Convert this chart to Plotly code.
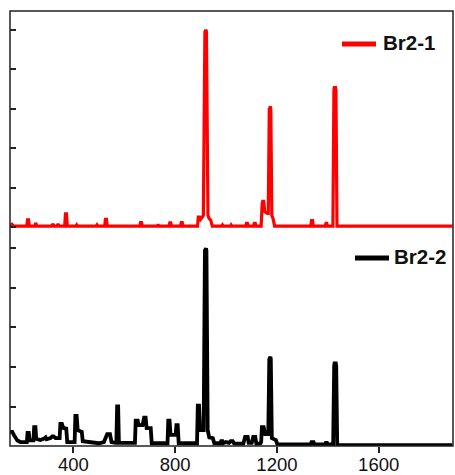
import plotly.graph_objects as go
from plotly.subplots import make_subplots

# Spectrum traces (wavenumber, relative intensity)
br21_x = [150, 158, 165, 217, 220, 224, 227, 249, 251, 254, 256, 314, 317, 322, 325, 335, 338, 342,
          345, 366, 369, 373, 376, 410, 413, 416, 490, 493, 496, 523, 526, 530, 533, 661, 664, 668,
          671, 730, 733, 736, 776, 779, 783, 786, 821, 824, 828, 831, 888, 891, 896, 900, 906, 911,
          917, 918.5, 921.5, 923, 929, 934, 940, 946, 983, 986, 989, 1017, 1020, 1023, 1077, 1080,
          1084, 1087, 1108, 1111, 1115, 1118, 1138, 1142, 1144, 1148, 1152, 1162, 1166, 1170,
          1171.5, 1174.5, 1176, 1180, 1185, 1191, 1333, 1336, 1340, 1343, 1389, 1392, 1395, 1398,
          1420, 1424, 1425.5, 1430.5, 1432, 1436, 1890]
br21_y = [0.06, 0.08, 0.03, 0.03, 0.19, 0.19, 0.03, 0.03, 0.08, 0.08, 0.03, 0.03, 0.06, 0.06, 0.03,
          0.03, 0.06, 0.06, 0.03, 0.03, 0.34, 0.34, 0.03, 0.03, 0.06, 0.03, 0.03, 0.06, 0.03, 0.03,
          0.2, 0.2, 0.03, 0.03, 0.12, 0.12, 0.03, 0.03, 0.07, 0.03, 0.03, 0.11, 0.11, 0.03, 0.03,
          0.12, 0.12, 0.03, 0.03, 0.26, 0.26, 0.2, 0.25, 0.3, 4.95, 5.0, 5.0, 4.95, 0.3, 0.22, 0.18,
          0.03, 0.03, 0.06, 0.03, 0.03, 0.06, 0.03, 0.03, 0.1, 0.1, 0.03, 0.03, 0.1, 0.1, 0.03, 0.03,
          0.6, 0.66, 0.66, 0.4, 0.35, 0.35, 3.0, 3.06, 3.06, 3.0, 0.3, 0.22, 0.03, 0.03, 0.17, 0.17,
          0.03, 0.03, 0.13, 0.13, 0.03, 0.03, 3.48, 3.54, 3.54, 3.48, 0.03, 0.03]

br22_x = [150, 160, 166, 172, 180, 192, 212, 217, 220, 225, 228, 240, 243, 246, 251, 254, 270, 283,
          287, 291, 295, 310, 317, 322, 330, 346, 349, 355, 360, 367, 372, 376, 401, 405, 408, 413,
          417, 428, 433, 437, 460, 480, 500, 520, 527, 533, 544, 550, 566, 569, 572, 576, 579, 638,
          642, 645, 653, 657, 668, 672, 678, 684, 688, 704, 708, 766, 770, 773, 778, 782, 798, 802,
          805, 810, 814, 883, 886, 889, 894, 898, 908, 912, 917, 918.5, 921.5, 923, 928, 934, 948,
          954, 978, 981, 986, 989, 1000, 1012, 1018, 1026, 1032, 1068, 1072, 1075, 1085, 1089, 1101,
          1104, 1107, 1115, 1119, 1134, 1138, 1141, 1148, 1154, 1162, 1166, 1170, 1171.5, 1174.5,
          1176, 1180, 1196, 1202, 1330, 1333, 1336, 1344, 1347, 1386, 1389, 1392, 1397, 1400, 1418,
          1421, 1425, 1426.5, 1431.5, 1433, 1437, 1890]
br22_y = [0.36, 0.36, 0.28, 0.2, 0.14, 0.1, 0.1, 0.1, 0.33, 0.33, 0.14, 0.14, 0.14, 0.48, 0.48, 0.18,
          0.15, 0.18, 0.22, 0.22, 0.17, 0.2, 0.24, 0.24, 0.2, 0.2, 0.56, 0.56, 0.46, 0.44, 0.44, 0.1,
          0.1, 0.1, 0.76, 0.76, 0.4, 0.36, 0.36, 0.12, 0.1, 0.08, 0.07, 0.1, 0.22, 0.3, 0.3, 0.1,
          0.08, 0.08, 1.0, 1.0, 0.08, 0.08, 0.08, 0.64, 0.64, 0.53, 0.53, 0.53, 0.72, 0.72, 0.45,
          0.45, 0.07, 0.07, 0.07, 0.64, 0.64, 0.28, 0.28, 0.28, 0.53, 0.53, 0.07, 0.07, 0.07, 1.02,
          1.02, 0.4, 0.4, 0.4, 4.95, 5.0, 5.0, 4.95, 0.4, 0.22, 0.2, 0.07, 0.07, 0.12, 0.12, 0.07,
          0.1, 0.08, 0.12, 0.12, 0.06, 0.06, 0.15, 0.23, 0.23, 0.08, 0.08, 0.15, 0.23, 0.23, 0.06,
          0.06, 0.1, 0.48, 0.48, 0.3, 0.3, 0.3, 2.2, 2.26, 2.26, 2.2, 0.2, 0.15, 0.04, 0.04, 0.04,
          0.1, 0.1, 0.04, 0.04, 0.04, 0.08, 0.08, 0.04, 0.04, 0.04, 2.03, 2.09, 2.09, 2.03, 0.03,
          0.02]

x_ticks = [400, 800, 1200, 1600]
series_names = ["Br2-1", "Br2-2"]
series_colors = ["#ff0000", "#000000"]

FRAME = "#222222"
W, H = 455, 475
ML, MR, MT, MB = 10, 2, 11, 29

fig = make_subplots(rows=2, cols=1, shared_xaxes=True, vertical_spacing=0)

fig.add_trace(go.Scatter(x=br21_x, y=br21_y, mode="lines", name=series_names[0],
                         line=dict(color=series_colors[0], width=3.2), showlegend=False),
              row=1, col=1)
fig.add_trace(go.Scatter(x=br22_x, y=br22_y, mode="lines", name=series_names[1],
                         line=dict(color=series_colors[1], width=3.8), showlegend=False),
              row=2, col=1)

xr = [151, 1892]
fig.update_xaxes(range=xr, showgrid=False, zeroline=False, showline=False, automargin=False)
fig.update_xaxes(row=1, col=1, ticks="", showticklabels=False)
fig.update_xaxes(row=2, col=1, ticks="outside", ticklen=6, tickwidth=1.5, tickcolor=FRAME,
                 tickvals=x_ticks, ticktext=[str(v) for v in x_ticks],
                 ticklabelstandoff=-4,
                 tickfont=dict(size=18.5, color="#111"))
fig.update_yaxes(showgrid=False, zeroline=False, showline=False, showticklabels=False,
                 ticks="inside", ticklen=6, tickwidth=1.5, tickcolor=FRAME,
                 tick0=0, dtick=1, automargin=False)
fig.update_yaxes(row=1, col=1, range=[-0.03, 5.476])
fig.update_yaxes(row=2, col=1, range=[0, 5.506])

# outer frame around both panels
shapes = [dict(type="rect", xref="paper", yref="paper", x0=0, x1=1, y0=0, y1=1,
               line=dict(color=FRAME, width=1.5))]

pw, ph = W - ML - MR, H - MT - MB


def px_x(v):
    return (v - ML) / pw


def px_y(v):
    return (H - MB - v) / ph


annotations = []
legend_items = [
    (series_names[0], series_colors[0], 342, 376, 44, 381, 42.5),
    (series_names[1], series_colors[1], 355, 389, 258, 392, 256),
]
for name, color, lx0, lx1, ly, tx, ty in legend_items:
    shapes.append(dict(type="line", xref="paper", yref="paper",
                       x0=px_x(lx0), x1=px_x(lx1), y0=px_y(ly), y1=px_y(ly),
                       line=dict(color=color, width=5)))
    annotations.append(dict(xref="paper", yref="paper", x=px_x(tx), y=px_y(ty),
                            xanchor="left", yanchor="middle", showarrow=False,
                            text=f"<b>{name}</b>", font=dict(size=20.5, color="#111")))

fig.update_layout(
    width=W, height=H,
    margin=dict(l=ML, r=MR, t=MT, b=MB, autoexpand=False),
    paper_bgcolor="white", plot_bgcolor="white",
    font=dict(family="Arial, Liberation Sans, sans-serif"),
    shapes=shapes, annotations=annotations,
    showlegend=False,
)

fig.write_html("out.html")
